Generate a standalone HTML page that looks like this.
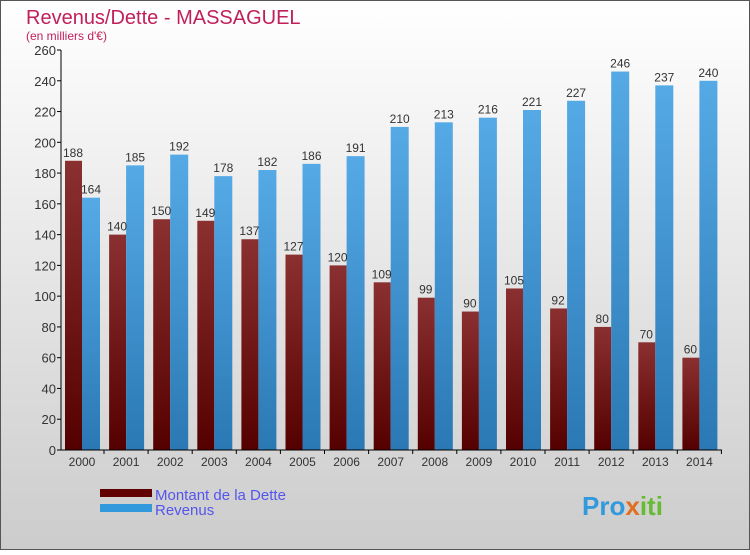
<!DOCTYPE html>
<html><head><meta charset="utf-8"><style>
body{margin:0;}
#wrap{width:750px;height:550px;position:relative;font-family:"Liberation Sans",sans-serif;}
</style></head><body>
<div id="wrap">
<svg id="svg" width="750" height="550" xmlns="http://www.w3.org/2000/svg">
<defs>
<linearGradient id="bg" x1="0" y1="0" x2="0" y2="1"><stop offset="0" stop-color="#ffffff"/><stop offset="1" stop-color="#cccccc"/></linearGradient>
<linearGradient id="gd" x1="0" y1="0" x2="0" y2="1"><stop offset="0" stop-color="#8b3030"/><stop offset="1" stop-color="#550000"/></linearGradient>
<linearGradient id="gr" x1="0" y1="0" x2="0" y2="1"><stop offset="0" stop-color="#55aae6"/><stop offset="1" stop-color="#2a78b4"/></linearGradient>
</defs>
<rect x="0.5" y="0.5" width="749" height="549" fill="url(#bg)" stroke="#555"/>
<text x="26" y="24" font-size="20" fill="#c0205a">Revenus/Dette - MASSAGUEL</text>
<text x="26" y="40" font-size="12" fill="#c0205a">(en milliers d'€)</text>
<g id="plot"></g>
<rect x="100" y="489" width="52" height="8" fill="#600000"/>
<text x="155" y="500" font-size="15" fill="#5555ee">Montant de la Dette</text>
<rect x="100" y="504" width="52" height="8" fill="#3399dd"/>
<text x="155" y="515" font-size="15" fill="#5555ee">Revenus</text>
<text x="582" y="515" font-size="26" font-weight="bold" fill="#3399dd">Pro<tspan fill="#e07020">x</tspan><tspan fill="#66bb33">iti</tspan></text>
</svg>
</div>
<script>
const years=["2000","2001","2002","2003","2004","2005","2006","2007","2008","2009","2010","2011","2012","2013","2014"];
const dette=[188,140,150,149,137,127,120,109,99,90,105,92,80,70,60];
const revenus=[164,185,192,178,182,186,191,210,213,216,221,227,246,237,240];
const yTicks=[0,20,40,60,80,100,120,140,160,180,200,220,240,260];
const NS="http://www.w3.org/2000/svg";
const g=document.getElementById('plot');
const y=v=>450-v*400/260;
const cx=i=>82+i*44.1;
function el(t,a,txt){const e=document.createElementNS(NS,t);for(const k in a)e.setAttribute(k,a[k]);if(txt!==undefined)e.textContent=txt;g.appendChild(e);return e;}
yTicks.forEach(v=>{
 const l=el('line',{x1:57,x2:61,y1:y(v),y2:y(v),stroke:'#000'});
 
 
 const t=el('text',{x:56,y:y(v)+5,'font-size':13,'text-anchor':'end',fill:'#333'},v);
 
 
});
years.forEach((yr,i)=>{
 const c=cx(i);
 const b1=el('rect',{x:c-17,y:y(dette[i]),width:17,height:450-y(dette[i]),fill:'url(#gd)'});
 
 
 const b2=el('rect',{x:c,y:y(revenus[i]),width:18,height:450-y(revenus[i]),fill:'url(#gr)'});
 
 
 const t1=el('text',{x:c-9,y:y(dette[i])-4,'font-size':12,'text-anchor':'middle',fill:'#333'},dette[i]);
 
 
 const t2=el('text',{x:c+9,y:y(revenus[i])-4,'font-size':12,'text-anchor':'middle',fill:'#333'},revenus[i]);
 
 
 const tk=el('line',{x1:c+22,x2:c+22,y1:450,y2:454,stroke:'#000'});
 
 
 const xl=el('text',{x:c,y:466,'font-size':12,'text-anchor':'middle',fill:'#333'},yr);
 
 
});
const ya=el('line',{x1:61,x2:61,y1:50,y2:450,stroke:'#000'});


const xa=el('line',{x1:61,x2:722,y1:450,y2:450,stroke:'#000'});


</script>
</body></html>
